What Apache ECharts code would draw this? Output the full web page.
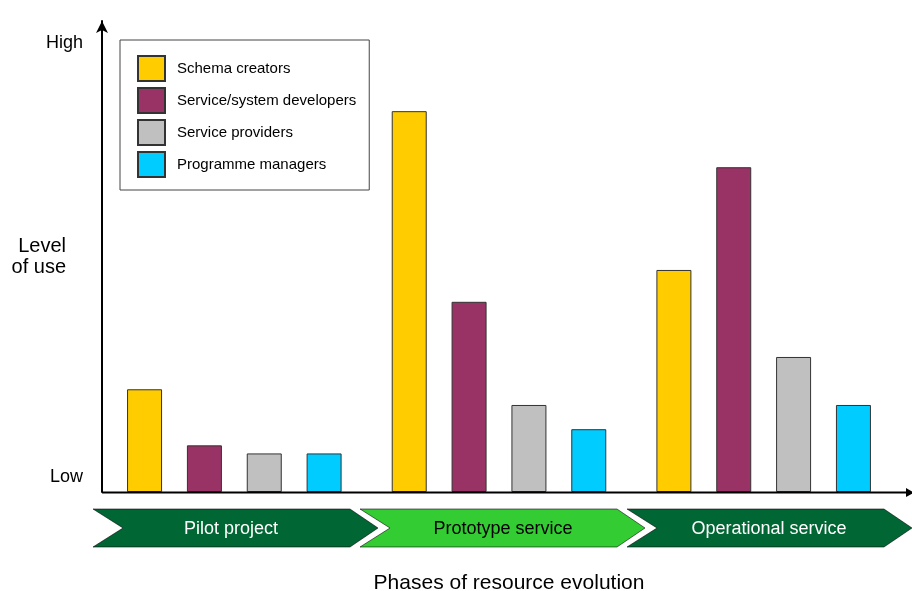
<!DOCTYPE html>
<html>
<head>
<meta charset="utf-8">
<script src="https://cdn.jsdelivr.net/npm/echarts@6/dist/echarts.min.js"></script>
<style>html,body{margin:0;padding:0;background:#fff}#c{width:912px;height:591px}</style>
</head>
<body>
<div id="c"></div>
<script>
// ---- data ----
var phases = ['Pilot project', 'Prototype service', 'Operational service'];
var seriesNames = ['Schema creators', 'Service/system developers', 'Service providers', 'Programme managers'];
var schemaCreators = [22.9, 84.9, 49.5];
var serviceDevelopers = [10.4, 42.4, 72.4];
var serviceProviders = [8.6, 19.4, 30.1];
var programmeManagers = [8.6, 14.0, 19.4];
var yTickValues = [3.3, 100];
var yTickLabels = ['Low', 'High'];
var yAxisTitle = 'Level\nof use';
var xAxisTitle = 'Phases of resource evolution';

// ---- style ----
var FONT = '"Liberation Sans", Arial, sans-serif';
var colors = ['#FFCC00', '#993366', '#C0C0C0', '#00CCFF'];
var chevronColors = ['#006633', '#33CC33', '#006633'];
var chevronTextColors = ['#ffffff', '#000000', '#ffffff'];
var chevronLefts = [93, 360, 627];
var chevronTextX = [231, 503, 769];

var values = [schemaCreators, serviceDevelopers, serviceProviders, programmeManagers];
var series = seriesNames.map(function (n, i) {
  return {
    name: n, type: 'bar', data: values[i],
    barWidth: 35, barGap: '71%',
    itemStyle: { color: colors[i], borderColor: '#333', borderWidth: 1 }
  };
});

var graphics = [];
// x-axis baseline with arrow
graphics.push({ type: 'line', shape: { x1: 102, y1: 492.5, x2: 910, y2: 492.5 }, style: { stroke: '#000', lineWidth: 2 }, z: 10 });
graphics.push({ type: 'polygon', shape: { points: [[906, 488], [914, 492.5], [906, 497]] }, style: { fill: '#000' }, z: 10 });
// phase chevrons
var chW = 285, chN = 30, chT = 28, chTop = 509, chBot = 547, chMid = 528;
phases.forEach(function (p, i) {
  var L = chevronLefts[i];
  graphics.push({
    type: 'polygon',
    shape: { points: [[L, chTop], [L + chW - chT, chTop], [L + chW, chMid], [L + chW - chT, chBot], [L, chBot], [L + chN, chMid]] },
    style: { fill: chevronColors[i], stroke: 'rgba(0,0,0,0.55)', lineWidth: 1 }
  });
  graphics.push({
    type: 'text', x: chevronTextX[i], y: chMid + 1,
    style: { text: p, fill: chevronTextColors[i], font: '18px ' + FONT, textAlign: 'center', textVerticalAlign: 'middle' },
    z: 5
  });
});

var chart = echarts.init(document.getElementById('c'), null, { renderer: 'canvas' });
chart.setOption({
  animation: false,
  textStyle: { fontFamily: FONT },
  grid: { left: 102, top: 21, width: 794, bottom: 99, containLabel: false, outerBoundsMode: 'none' },
  legend: {
    orient: 'vertical', left: 120, top: 40,
    padding: [15, 13, 12, 17],
    itemWidth: 27, itemHeight: 25, itemGap: 5,
    icon: 'rect',
    borderColor: '#444', borderWidth: 1,
    textStyle: { fontSize: 15, color: '#000', fontFamily: FONT, padding: [0, 0, 0, 7] },
    data: seriesNames
  },
  xAxis: {
    type: 'category', data: phases,
    axisLine: { show: false }, axisTick: { show: false }, axisLabel: { show: false },
    name: xAxisTitle, nameLocation: 'middle', nameGap: 81, nameMoveOverlap: false,
    nameTextStyle: { fontSize: 21, color: '#000', fontFamily: FONT, padding: [0, 0, 0, 20] }
  },
  yAxis: {
    type: 'value', min: 0, max: 105, interval: 100,
    splitLine: { show: false }, axisTick: { show: false },
    axisLine: { show: true, lineStyle: { color: '#000', width: 2 }, symbol: ['none', 'arrow'], symbolSize: [9, 12] },
    axisLabel: {
      customValues: yTickValues,
      margin: 19, fontSize: 18, color: '#000', fontFamily: FONT,
      formatter: function (v) { return v < 50 ? yTickLabels[0] : yTickLabels[1]; }
    },
    name: yAxisTitle, nameLocation: 'middle', nameRotate: 0, nameGap: 36, nameMoveOverlap: false,
    nameTextStyle: { fontSize: 20, lineHeight: 21, color: '#000', fontFamily: FONT, padding: [0, 0, 12, 0] }
  },
  series: series,
  graphic: graphics
});
</script>
</body>
</html>
